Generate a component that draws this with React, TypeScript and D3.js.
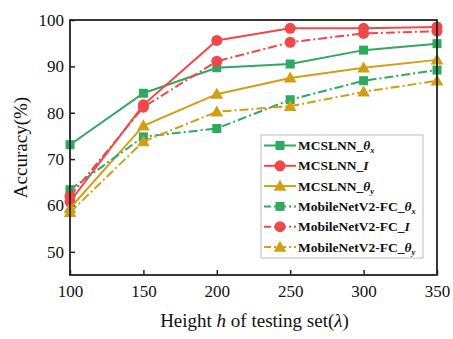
import React, { useEffect, useRef } from 'react';
import * as d3 from 'd3';

const heights = [100, 150, 200, 250, 300, 350];
const mcslnnThetaX = [73.1, 84.2, 89.7, 90.5, 93.5, 94.9];
const mcslnnI = [60.8, 81.7, 95.6, 98.2, 98.2, 98.5];
const mcslnnThetaY = [59.4, 77.2, 84.0, 87.5, 89.7, 91.4];
const mobileThetaX = [63.4, 74.8, 76.6, 82.8, 86.9, 89.2];
const mobileI = [62.0, 81.2, 91.1, 95.2, 97.1, 97.6];
const mobileThetaY = [58.5, 73.8, 80.2, 81.4, 84.5, 86.9];
const yTicks = [50, 60, 70, 80, 90, 100];

const GREEN = '#2fa862';
const RED = '#f04848';
const GOLD = '#d19e14';

type Series = { name: string; sub: string; values: number[]; color: string; marker: string; dashed: boolean };

const series: Series[] = [
    { name: 'MCSLNN_', sub: 'x', values: mcslnnThetaX, color: GREEN, marker: 'square', dashed: false },
    { name: 'MCSLNN_', sub: 'I', values: mcslnnI, color: RED, marker: 'circle', dashed: false },
    { name: 'MCSLNN_', sub: 'y', values: mcslnnThetaY, color: GOLD, marker: 'triangle', dashed: false },
    { name: 'MobileNetV2-FC_', sub: 'x', values: mobileThetaX, color: GREEN, marker: 'square', dashed: true },
    { name: 'MobileNetV2-FC_', sub: 'I', values: mobileI, color: RED, marker: 'circle', dashed: true },
    { name: 'MobileNetV2-FC_', sub: 'y', values: mobileThetaY, color: GOLD, marker: 'triangle', dashed: true },
];

export default function App() {
    const svgRef = useRef<SVGSVGElement>(null);

    useEffect(() => {
        if (!svgRef.current) return;
        const width = 453;
        const height = 339;
        const m = { left: 70, right: 437, top: 20, bottom: 275 };
        const font = '"Liberation Serif", "Times New Roman", serif';

        d3.select(svgRef.current).selectAll('*').remove();
        const svg = d3.select(svgRef.current)
            .attr('width', width)
            .attr('height', height)
            .style('font-family', font);

        const x = d3.scaleLinear().domain([100, 350]).range([m.left, m.right]);
        const y = d3.scaleLinear().domain([45, 100]).range([m.bottom, m.top]);

        // inward ticks
        const xAxis = svg.append('g').attr('transform', `translate(0,${m.bottom})`)
            .call(d3.axisBottom(x).tickValues(heights).tickSizeInner(-5).tickSizeOuter(0).tickPadding(10));
        const yAxis = svg.append('g').attr('transform', `translate(${m.left},0)`)
            .call(d3.axisLeft(y).tickValues(yTicks).tickSizeInner(-5).tickSizeOuter(0).tickPadding(6));
        [xAxis, yAxis].forEach(a => {
            a.select('.domain').remove();
            a.selectAll('line').attr('stroke', '#222').attr('stroke-width', 1.5);
            a.selectAll('text').attr('fill', '#111').style('font-size', '17px').style('font-family', font);
        });

        const line = d3.line<number>()
            .x((d, i) => x(heights[i]))
            .y(d => y(d));

        const drawMarker = (g: any, type: string, cx: number, cy: number, color: string) => {
            if (type === 'square') {
                g.append('rect').attr('x', cx - 4.5).attr('y', cy - 4.5).attr('width', 9).attr('height', 9).attr('fill', color);
            } else if (type === 'circle') {
                g.append('circle').attr('cx', cx).attr('cy', cy).attr('r', 5.5).attr('fill', color);
            } else {
                const s = d3.symbol().type(d3.symbolTriangle).size(70);
                g.append('path').attr('d', s()).attr('transform', `translate(${cx},${cy + 1})`).attr('fill', color);
            }
        };

        const plot = svg.append('g');
        series.forEach(s => {
            plot.append('path')
                .datum(s.values)
                .attr('d', line)
                .attr('fill', 'none')
                .attr('stroke', s.color)
                .attr('stroke-width', 2)
                .attr('stroke-dasharray', s.dashed ? '9,3,2,3' : null);
            s.values.forEach((v, i) => drawMarker(plot, s.marker, x(heights[i]), y(v), s.color));
        });

        // frame
        svg.append('rect')
            .attr('x', m.left).attr('y', m.top)
            .attr('width', m.right - m.left).attr('height', m.bottom - m.top)
            .attr('fill', 'none').attr('stroke', '#222').attr('stroke-width', 1.8);

        // legend
        const lg = svg.append('g').attr('transform', 'translate(261,135)');
        lg.append('rect').attr('width', 162).attr('height', 123)
            .attr('fill', 'white').attr('stroke', '#bbb').attr('stroke-width', 1);
        series.forEach((s, i) => {
            const ly = 10.5 + i * 20.3;
            lg.append('line').attr('x1', 3).attr('x2', 35).attr('y1', ly).attr('y2', ly)
                .attr('stroke', s.color).attr('stroke-width', 2)
                .attr('stroke-dasharray', s.dashed ? '7,3,2,3' : null);
            drawMarker(lg, s.marker, 19, ly, s.color);
            const t = lg.append('text').attr('x', 37).attr('y', ly + 4.5)
                .attr('fill', '#111').style('font-size', '13.5px').style('font-weight', 'bold');
            t.append('tspan').text(s.name);
            if (s.sub === 'I') {
                t.append('tspan').style('font-style', 'italic').text('I');
            } else {
                t.append('tspan').style('font-style', 'italic').text('θ');
                t.append('tspan').style('font-style', 'italic').style('font-size', '8.5px').attr('dy', 3).text(s.sub);
            }
        });

        // axis titles
        const xt = svg.append('text').attr('x', (m.left + m.right) / 2 + 1).attr('y', 327)
            .attr('text-anchor', 'middle').attr('fill', '#111').style('font-size', '19px');
        xt.append('tspan').text('Height ');
        xt.append('tspan').style('font-style', 'italic').text('h');
        xt.append('tspan').text(' of testing set(');
        xt.append('tspan').style('font-style', 'italic').text('λ');
        xt.append('tspan').text(')');

        svg.append('text')
            .attr('transform', `translate(27,${(m.top + m.bottom) / 2}) rotate(-90)`)
            .attr('text-anchor', 'middle').attr('fill', '#111').style('font-size', '19px')
            .text('Accuracy(%)');
    }, []);

    return (
        <div style={{ position: 'fixed', left: 0, top: 0, background: 'white' }}>
            <svg ref={svgRef}></svg>
        </div>
    );
}
